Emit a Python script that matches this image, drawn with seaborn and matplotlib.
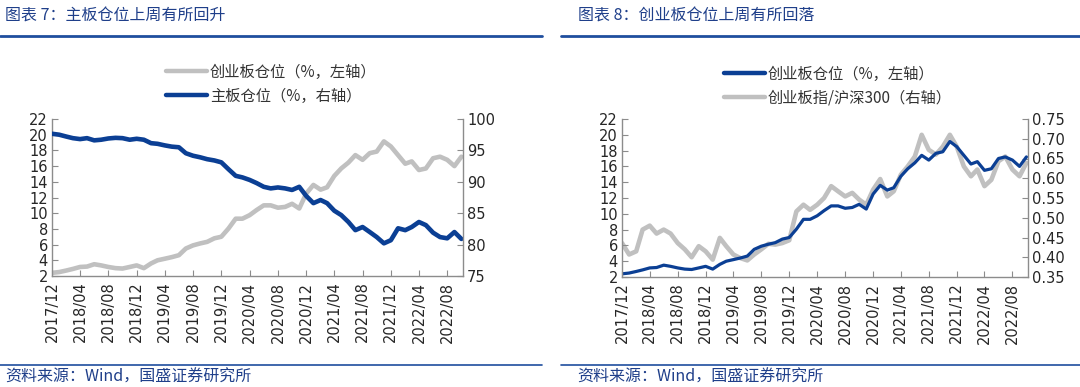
import matplotlib
matplotlib.use('Agg')
import matplotlib.pyplot as plt
import matplotlib.dates as mdates
from matplotlib.lines import Line2D
from matplotlib.ticker import FormatStrFormatter
import seaborn as sns
import pandas as pd

sns.set_style('ticks')
plt.rcParams['font.family'] = ['DejaVu Sans', 'Noto Sans CJK SC']
CJK = ['Noto Sans CJK SC', 'DejaVu Sans']

# 数据：月度读数 2017/12 - 2022/10
months = pd.date_range('2017-12-01', '2022-10-01', freq='MS')

cyb_pos = [2.4, 2.5, 2.7, 2.9, 3.15, 3.2, 3.5, 3.35, 3.15, 3.0,
           2.95, 3.15, 3.35, 3.0, 3.6, 4.0, 4.2, 4.4, 4.65, 5.5,
           5.9, 6.15, 6.35, 6.8, 7.0, 8.05, 9.3, 9.3, 9.75, 10.4,
           11.0, 11.0, 10.7, 10.8, 11.2, 10.6, 12.5, 13.6, 13.0, 13.3,
           14.75, 15.7, 16.45, 17.4, 16.8, 17.65, 17.85, 19.15, 18.5, 17.4,
           16.3, 16.6, 15.5, 15.7, 17.0, 17.2, 16.8, 16.0, 17.2]

main_pos = [97.65, 97.5, 97.2, 96.95, 96.8, 96.95, 96.6, 96.7, 96.9, 97.0,
            96.95, 96.7, 96.85, 96.7, 96.15, 96.05, 95.8, 95.6, 95.5, 94.55,
            94.15, 93.9, 93.6, 93.4, 93.1, 92.0, 90.95, 90.7, 90.3, 89.8,
            89.2, 88.95, 89.1, 88.95, 88.7, 89.2, 87.75, 86.6, 87.1, 86.6,
            85.4, 84.7, 83.6, 82.3, 82.8, 82.0, 81.2, 80.2, 80.7, 82.6,
            82.3, 82.8, 83.6, 83.1, 81.9, 81.2, 81.0, 82.0, 80.9]

cyb_hs300 = [0.436, 0.407, 0.415, 0.47, 0.48, 0.46, 0.47, 0.46, 0.436, 0.42,
             0.40, 0.428, 0.415, 0.394, 0.449, 0.428, 0.407, 0.398, 0.392, 0.407,
             0.42, 0.434, 0.432, 0.436, 0.443, 0.516, 0.533, 0.52, 0.533, 0.55,
             0.58, 0.567, 0.554, 0.563, 0.546, 0.533, 0.571, 0.598, 0.554, 0.567,
             0.609, 0.63, 0.655, 0.71, 0.672, 0.66, 0.68, 0.71, 0.68, 0.63,
             0.605, 0.622, 0.58, 0.596, 0.643, 0.655, 0.622, 0.605, 0.639]

BLUE = '#0b3f94'
GRAY = '#c0c0c0'
NAVY = '#1f3f8a'
SPINE = '#8c8c8c'
X_END = pd.Timestamp('2022-10-08')

fig = plt.figure(figsize=(10.8, 3.87), dpi=100)


def style_axes(ax, ax2):
    ax.set_xlim(months[0], X_END)
    ax.xaxis.set_major_locator(mdates.MonthLocator(bymonth=[4, 8, 12]))
    ax.xaxis.set_major_formatter(mdates.DateFormatter('%Y/%m'))
    for a in (ax, ax2):
        a.set_xlabel('')
        a.set_ylabel('')
        a.spines['top'].set_visible(False)
        for s in a.spines.values():
            s.set_color(SPINE)
            s.set_linewidth(1)
    ax.spines['right'].set_visible(False)
    ax2.spines['left'].set_visible(False)
    ax2.spines['bottom'].set_visible(False)
    ax.tick_params(axis='x', direction='in', length=4, color=SPINE,
                   labelsize=10.5, rotation=90, pad=4)
    ax.tick_params(axis='y', direction='in', length=4, color=SPINE,
                   labelsize=10.5, pad=3)
    ax2.tick_params(axis='y', direction='in', length=4, color=SPINE,
                    labelsize=10.5, pad=3)
    ax.set_ylim(2, 22)
    ax.set_yticks(range(2, 23, 2))


# 图表7
ax1 = fig.add_axes([52 / 1080, 1 - 276 / 387, 411 / 1080, 157 / 387])
ax1b = ax1.twinx()
sns.lineplot(x=months, y=cyb_pos, ax=ax1, color=GRAY, linewidth=3.3)
sns.lineplot(x=months, y=main_pos, ax=ax1b, color=BLUE, linewidth=3.3)
style_axes(ax1, ax1b)
ax1b.set_ylim(75, 100)
ax1b.set_yticks(range(75, 101, 5))

h1 = [Line2D([], [], color=GRAY, lw=3.2), Line2D([], [], color=BLUE, lw=3.2)]
fig.legend(h1, ['创业板仓位（%，左轴）', '主板仓位（%，右轴）'],
           loc='upper left', bbox_to_anchor=(158 / 1080, 1 - 56 / 387),
           frameon=False, prop={'family': CJK, 'size': 11},
           handlelength=2.7, handletextpad=0.2, labelspacing=0.45,
           borderpad=0, labelcolor='#333333')

# 图表8
ax2 = fig.add_axes([622 / 1080, 1 - 277 / 387, 406 / 1080, 158 / 387])
ax2b = ax2.twinx()
sns.lineplot(x=months, y=cyb_hs300, ax=ax2b, color=GRAY, linewidth=3.3)
sns.lineplot(x=months, y=cyb_pos, ax=ax2, color=BLUE, linewidth=2.3)
style_axes(ax2, ax2b)
ax2b.set_ylim(0.35, 0.75)
ax2b.set_yticks([0.35 + 0.05 * i for i in range(9)])
ax2b.yaxis.set_major_formatter(FormatStrFormatter('%.2f'))
ax2.set_zorder(ax2b.get_zorder() + 1)
ax2.patch.set_visible(False)

h2 = [Line2D([], [], color=BLUE, lw=3.2), Line2D([], [], color=GRAY, lw=3.2)]
fig.legend(h2, ['创业板仓位（%，左轴）', '创业板指/沪深300（右轴）'],
           loc='upper left', bbox_to_anchor=(716 / 1080, 1 - 58 / 387),
           frameon=False, prop={'family': CJK, 'size': 11},
           handlelength=2.7, handletextpad=0.2, labelspacing=0.45,
           borderpad=0, labelcolor='#333333')

# 标题、来源与分隔线
fig.text(5 / 1080, 1 - 16 / 387, '图表 7：主板仓位上周有所回升', color=NAVY,
         fontsize=11.5, family=CJK, va='center', ha='left')
fig.text(578 / 1080, 1 - 16 / 387, '图表 8：创业板仓位上周有所回落', color=NAVY,
         fontsize=11.5, family=CJK, va='center', ha='left')
fig.text(5 / 1080, 1 - 377 / 387, '资料来源：Wind，国盛证券研究所', color=NAVY,
         fontsize=11.5, family=CJK, va='center', ha='left')
fig.text(577 / 1080, 1 - 377 / 387, '资料来源：Wind，国盛证券研究所', color=NAVY,
         fontsize=11.5, family=CJK, va='center', ha='left')

for x0, x1 in [(0, 542), (561, 1080)]:
    fig.add_artist(Line2D([x0 / 1080, x1 / 1080], [1 - 35.5 / 387] * 2,
                          color='#1f4e9e', lw=2, transform=fig.transFigure))
    fig.add_artist(Line2D([x0 / 1080, x1 / 1080], [1 - 365 / 387] * 2,
                          color='#1f4e9e', lw=1.2, transform=fig.transFigure))

fig.savefig('out.png', dpi=100)
plt.close(fig)
